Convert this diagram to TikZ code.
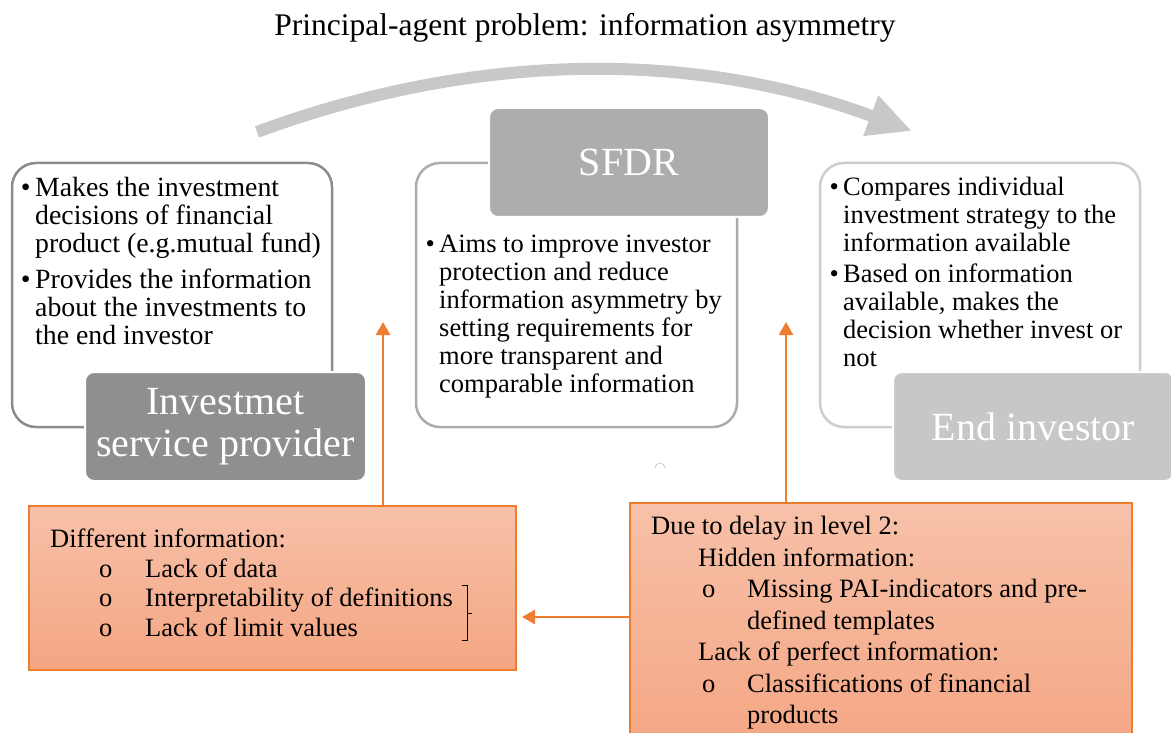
\documentclass[tikz,border=0pt]{standalone}
\usepackage{fontspec}
\setmainfont{Liberation Serif}
\usetikzlibrary{arrows.meta}
\definecolor{arcgray}{RGB}{200,200,200}
\definecolor{ispgray}{RGB}{143,143,143}
\definecolor{sfdrgray}{RGB}{173,173,173}
\definecolor{endgray}{RGB}{199,199,199}
\definecolor{ispline}{RGB}{140,140,140}
\definecolor{sfdrline}{RGB}{172,172,172}
\definecolor{endline}{RGB}{205,205,205}
\definecolor{orline}{RGB}{237,125,49}
\definecolor{ortop}{RGB}{247,193,169}
\definecolor{orbot}{RGB}{244,165,130}
\begin{document}
\begin{tikzpicture}[
			x=1pt, y=-1pt,
			infobox/.style={draw, line width=2.5pt, rounded corners=24pt, fill=white},
			labelbox/.style={draw=white, line width=2pt, rounded corners=9pt, text=white, align=center, font=\fontsize{40}{42}\selectfont},
			bodytext/.style={anchor=north west, inner sep=0pt, align=left, font=\fontsize{26.5}{28}\selectfont},
			orangebox/.style={draw=orline, line width=1.5pt, top color=ortop, bottom color=orbot},
			orangetext/.style={anchor=north west, inner sep=0pt, align=left},
			orangearrow/.style={draw=orline, line width=2.5pt, -{Triangle[length=13pt,width=14pt]}}
		]
		\useasboundingbox (0,0) rectangle (1171,733);
		\node[font=\fontsize{31.5}{34}\selectfont] (title) at (585,28) {Principal-agent problem: information asymmetry};
		\coordinate (arcstart) at (257,132);
		\coordinate (arcend) at (912,131);
		\draw[arcgray, line width=12pt, -{Triangle[length=44pt,width=40pt]}] (arcstart) .. controls (476,51) and (694,50) .. (arcend);
		\node[infobox, draw=ispline, minimum width=320, minimum height=264] (ispbox) at (172,295) {};
		\node[infobox, draw=sfdrline, minimum width=321, minimum height=264] (sfdrbox) at (576.5,295) {};
		\node[infobox, draw=endline, minimum width=320, minimum height=264] (endbox) at (980,295) {};
		\node[labelbox, fill=ispgray, minimum width=281, minimum height=109] (isp) at (225.5,426.5) {Investmet\\service provider};
		\node[labelbox, fill=sfdrgray, minimum width=280, minimum height=109] (sfdr) at (629,162.5) {SFDR};
		\node[labelbox, fill=endgray, minimum width=281, minimum height=109] (endinv) at (1033.5,426.5) {End investor};
		\node[bodytext, font=\fontsize{27.8}{28}\selectfont] (isptext) at (35,177) {\llap{\textbullet\,}Makes the investment\\decisions of financial\\product (e.g.mutual fund)\\[8pt]\llap{\textbullet\,}Provides the information\\about the investments to\\the end investor};
		\node[bodytext] (sfdrtext) at (439,235) {\llap{\textbullet\,}Aims to improve investor\\protection and reduce\\information asymmetry by\\setting requirements for\\more transparent and\\comparable information};
		\node[bodytext] (endtext) at (843,177) {\llap{\textbullet\,}Compares individual\\investment strategy to the\\information available\\[3pt]\llap{\textbullet\,}Based on information\\available, makes the\\decision whether invest or\\not};
		\draw[gray!40, line width=0.8pt] (655,468) arc (180:360:5);
		\node[orangebox, minimum width=487, minimum height=164] (difinfo) at (272.5,588) {};
		\node[orangebox, minimum width=502, minimum height=254] (delay) at (881,630) {};
		\node[orangetext, font=\fontsize{26.5}{29.5}\selectfont] (difinfotext) at (50,529) {Different information:\\
			\makebox[95pt][l]{\hspace*{49pt}o}Lack of data\\
			\makebox[95pt][l]{\hspace*{49pt}o}Interpretability of definitions\\
			\makebox[95pt][l]{\hspace*{49pt}o}Lack of limit values};
		\node[orangetext, font=\fontsize{26.5}{31.5}\selectfont] (delaytext) at (651,516) {Due to delay in level 2:\\
			\hspace*{47pt}Hidden information:\\
			\makebox[96pt][l]{\hspace*{51pt}o}Missing PAI-indicators and pre-\\
			\hspace*{96pt}defined templates\\
			\hspace*{47pt}Lack of perfect information:\\
			\makebox[96pt][l]{\hspace*{51pt}o}Classifications of financial\\
			\hspace*{96pt}products};
		\draw[black, line width=1pt] (462,585) -- (467,585) -- (467,640) -- (462,640);
		\draw[black, line width=1pt] (467,613) -- (472,613);
		\coordinate (isptip) at (383,322);
		\coordinate (endtip) at (786,322);
		\coordinate (diftip) at (522,617);
		\draw[orangearrow] (difinfo.north -| isptip) -- (isptip);
		\draw[orangearrow] (delay.north -| endtip) -- (endtip);
		\draw[orangearrow] (delay.west |- diftip) -- (diftip);
	\end{tikzpicture}
\end{document}
